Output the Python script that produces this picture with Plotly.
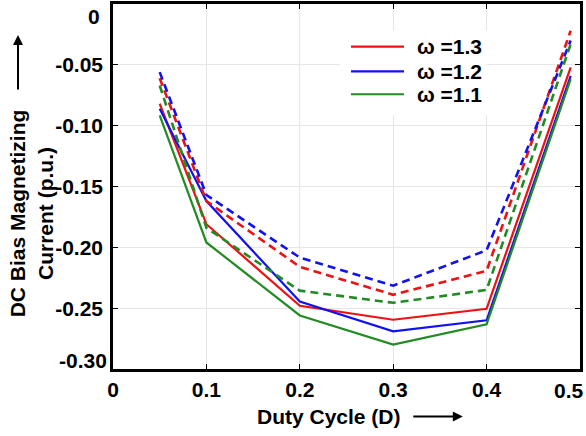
import plotly.graph_objects as go

# Duty cycle values (x) and DC bias magnetizing current (p.u.) for each omega
duty = [0.05, 0.1, 0.2, 0.3, 0.4, 0.49]

omega_labels = ["ω =1.3", "ω =1.2", "ω =1.1"]

# solid curves
set1_w13 = [-0.082, -0.181, -0.248, -0.2595, -0.2505, -0.052]
set1_w12 = [-0.086, -0.162, -0.2446, -0.269, -0.260, -0.059]
set1_w11 = [-0.0916, -0.196, -0.256, -0.280, -0.2633, -0.0617]

# dashed curves
set2_w13 = [-0.061, -0.162, -0.216, -0.239, -0.2193, -0.022]
set2_w12 = [-0.056, -0.157, -0.2084, -0.2315, -0.2024, -0.030]
set2_w11 = [-0.067, -0.184, -0.2356, -0.2456, -0.235, -0.033]

x_ticks = [0, 0.1, 0.2, 0.3, 0.4]
x_ticktext = ["0", "0.1", "0.2", "0.3", "0.4"]
y_ticks = [-0.25, -0.20, -0.15, -0.10, -0.05]
y_ticktext = ["-0.25", "-0.20", "-0.15", "-0.10", "-0.05"]

colors = ["#ee1111", "#1212ee", "#238b23"]
FONT = "Liberation Sans, Arial, sans-serif"

fig = go.Figure()

for name, ys, c in zip(omega_labels, [set1_w13, set1_w12, set1_w11], colors):
    fig.add_trace(go.Scatter(x=duty, y=ys, mode="lines", name=name, showlegend=False,
                             line=dict(color=c, width=2.2)))

for name, ys, c in zip(omega_labels, [set2_w13, set2_w12, set2_w11], colors):
    fig.add_trace(go.Scatter(x=duty, y=ys, mode="lines", name=name, showlegend=False,
                             line=dict(color=c, width=2.6, dash="8px,5px")))

axis_common = dict(
    showline=True, linecolor="black", linewidth=2.5, mirror="allticks",
    ticks="inside", ticklen=5, tickcolor="black", tickwidth=1,
    showgrid=True, gridcolor="#e6e6e6", gridwidth=1, zeroline=False,
    tickfont=dict(family=FONT, size=21, color="black", weight="bold"),
)

fig.update_xaxes(range=[0, 0.5], tickvals=x_ticks, ticktext=x_ticktext, **axis_common)
fig.update_yaxes(range=[-0.30, 0], tickvals=y_ticks, ticktext=y_ticktext,
                 ticklabelstandoff=3, **axis_common)

ann_font = dict(family=FONT, size=21, color="black", weight="bold")
annotations = [
    # edge tick labels nudged inside the page
    dict(x=0, y=0, xref="paper", yref="y", text="0", showarrow=False,
         xanchor="right", yanchor="middle", xshift=-11, yshift=-12, font=ann_font),
    dict(x=0, y=-0.30, xref="paper", yref="y", text="-0.30", showarrow=False,
         xanchor="right", yanchor="middle", xshift=-4, yshift=9, font=ann_font),
    dict(x=0.5, y=0, xref="x", yref="paper", text="0.5", showarrow=False,
         xanchor="center", yanchor="top", xshift=-11, yshift=-8, font=ann_font),
    # axis titles
    dict(x=0.621, y=-0.13, xref="paper", yref="paper", text="Duty Cycle (D)",
         showarrow=False, xanchor="right", yanchor="middle", font=ann_font),
    dict(x=-0.176, y=0.426, xref="paper", yref="paper",
         text="DC Bias Magnetizing<br>Current (p.u.)", textangle=-90,
         showarrow=False, xanchor="center", yanchor="middle", font=ann_font),
    # arrows next to the titles
    dict(x=0.749, y=-0.13, xref="paper", yref="paper", text="", showarrow=True,
         ax=-51, ay=0, arrowhead=2, arrowsize=1, arrowwidth=2, arrowcolor="black"),
    dict(x=-0.2034, y=0.915, xref="paper", yref="paper", text="", showarrow=True,
         ax=0, ay=56, arrowhead=2, arrowsize=1, arrowwidth=2, arrowcolor="black"),
]

# legend box with a line sample and label per omega
legend_rows_y = [0.8832, 0.8152, 0.7527]
shapes = [dict(type="rect", xref="paper", yref="paper", x0=0.486, x1=0.801,
               y0=0.6957, y1=0.9266, fillcolor="white", line=dict(width=0), layer="above")]
for name, c, ly in zip(omega_labels, colors, legend_rows_y):
    shapes.append(dict(type="line", xref="paper", yref="paper", x0=0.5096, x1=0.6231,
                       y0=ly, y1=ly, line=dict(color=c, width=2.2), layer="above"))
    annotations.append(dict(x=0.6467, y=ly, xref="paper", yref="paper", text=name,
                            showarrow=False, xanchor="left", yanchor="middle", font=ann_font))

fig.update_layout(
    width=586, height=436,
    margin=dict(l=113, r=6, t=1, b=67),
    paper_bgcolor="white", plot_bgcolor="white",
    annotations=annotations,
    shapes=shapes,
    showlegend=False,
)

fig.write_html("out.html")
